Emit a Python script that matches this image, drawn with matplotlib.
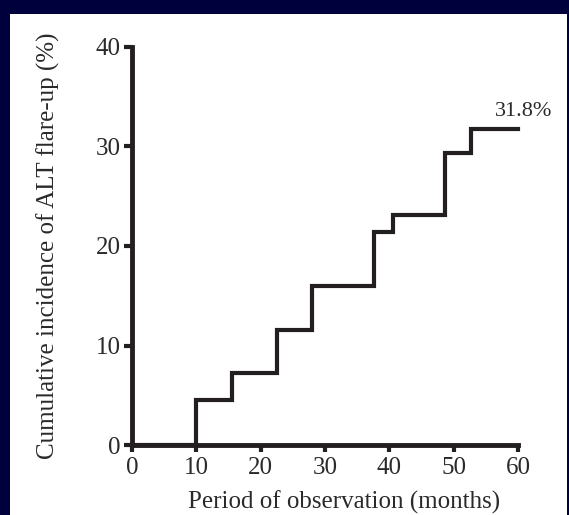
import matplotlib
matplotlib.use("Agg")
import matplotlib.pyplot as plt
from matplotlib.patches import Rectangle

# Data
months = [0, 10, 15.5, 22.5, 28, 37.6, 40.5, 48.7, 52.7, 60]
incidence = [0, 4.5, 7.2, 11.6, 16.0, 21.4, 23.1, 29.3, 31.8, 31.8]
x_ticks = [0, 10, 20, 30, 40, 50, 60]
y_ticks = [0, 10, 20, 30, 40]
final_label = "31.8%"
x_label = "Period of observation (months)"
y_label = "Cumulative incidence of ALT flare-up (%)"

W, H = 569, 515
plt.rcParams["font.family"] = ["Liberation Serif", "DejaVu Serif"]
INK = "#231f20"
TXT = "#2a2a2a"

fig = plt.figure(figsize=(W / 100, H / 100), dpi=100)
fig.patch.set_facecolor("#00003c")

bg = fig.add_axes([0, 0, 1, 1], zorder=-10)
bg.set_axis_off()
bg.set_xlim(0, W)
bg.set_ylim(0, H)
bg.add_patch(Rectangle((10, 0), 557, H - 14, facecolor="white", edgecolor="none"))

ax = fig.add_axes([132 / W, (H - 445) / H, 386 / W, 398 / H], zorder=1)
ax.set_facecolor("none")
ax.step(months, incidence, where="post", color=INK, lw=3.0,
        solid_joinstyle="miter", clip_on=False, zorder=3)

ax.set_xlim(0, 60)
ax.set_ylim(0, 40)
ax.set_xticks(x_ticks)
ax.set_yticks(y_ticks)
ax.set_xticklabels([str(t) for t in x_ticks], fontsize=18, color=TXT)
ax.set_yticklabels([str(t) for t in y_ticks], fontsize=18, color=TXT)
ax.tick_params(axis="x", direction="out", length=5, width=3, color=INK, pad=4)
ax.tick_params(axis="y", direction="out", length=6, width=3, color=INK, pad=2)
for s in ["top", "right"]:
    ax.spines[s].set_visible(False)
for s in ["left", "bottom"]:
    ax.spines[s].set_linewidth(3.5)
    ax.spines[s].set_color(INK)
    ax.spines[s].set_capstyle("projecting")

ax.set_xlabel(x_label, fontsize=18, color=TXT, labelpad=8)
ax.xaxis.label.set_x(0.55)
ax.set_ylabel(y_label, fontsize=18, color=TXT, labelpad=26)

ax.text(60.8, 32.6, final_label, fontsize=16, color=TXT, ha="center", va="bottom")

fig.savefig("out.png", dpi=100, facecolor=fig.get_facecolor())
